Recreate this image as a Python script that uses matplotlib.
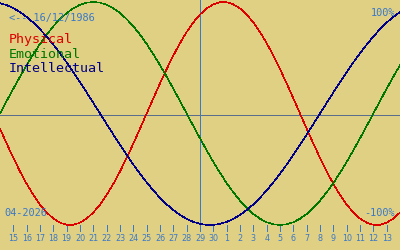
import numpy as np
import matplotlib
matplotlib.use("Agg")
import matplotlib.pyplot as plt

# ---- data (biorhythm values, half-day steps from -15 to +15 days around today) ----
day_offsets = np.arange(-15, 15.5, 0.5)

physical = [
    -0.136, -0.270, -0.398, -0.520, -0.631, -0.731, -0.817, -0.888, -0.942, -0.979,
    -0.998, -0.998, -0.979, -0.942, -0.888, -0.817, -0.731, -0.631, -0.520, -0.398,
    -0.270, -0.136, 0.000, 0.136, 0.270, 0.398, 0.520, 0.631, 0.731, 0.817,
    0.888, 0.942, 0.979, 0.998, 0.998, 0.979, 0.942, 0.888, 0.817, 0.731,
    0.631, 0.520, 0.398, 0.270, 0.136, 0.000, -0.136, -0.270, -0.398, -0.520,
    -0.631, -0.731, -0.817, -0.888, -0.942, -0.979, -0.998, -0.998, -0.979, -0.942,
    -0.888,
]
emotional = [
    0.000, 0.112, 0.223, 0.330, 0.434, 0.532, 0.624, 0.707, 0.782, 0.847,
    0.901, 0.944, 0.975, 0.994, 1.000, 0.994, 0.975, 0.944, 0.901, 0.847,
    0.782, 0.707, 0.624, 0.532, 0.434, 0.330, 0.223, 0.112, 0.000, -0.112,
    -0.223, -0.330, -0.434, -0.532, -0.624, -0.707, -0.782, -0.847, -0.901, -0.944,
    -0.975, -0.994, -1.000, -0.994, -0.975, -0.944, -0.901, -0.847, -0.782, -0.707,
    -0.624, -0.532, -0.434, -0.330, -0.223, -0.112, 0.000, 0.112, 0.223, 0.330,
    0.434,
]
intellectual = [
    0.990, 0.972, 0.945, 0.910, 0.866, 0.815, 0.756, 0.690, 0.618, 0.541,
    0.458, 0.372, 0.282, 0.189, 0.095, 0.000, -0.095, -0.189, -0.282, -0.372,
    -0.458, -0.541, -0.618, -0.690, -0.756, -0.815, -0.866, -0.910, -0.945, -0.972,
    -0.990, -0.999, -0.999, -0.990, -0.972, -0.945, -0.910, -0.866, -0.815, -0.756,
    -0.690, -0.618, -0.541, -0.458, -0.372, -0.282, -0.189, -0.095, 0.000, 0.095,
    0.189, 0.282, 0.372, 0.458, 0.541, 0.618, 0.690, 0.756, 0.815, 0.866,
    0.910,
]
tick_days = list(range(-14, 15))
tick_labels = [str(d) for d in list(range(15, 31)) + list(range(1, 14))]
series_names = ["Physical", "Emotional", "Intellectual"]
birth_label = "<-- 16/12/1986"
month_label = "04-2026"

# ---- styling ----
BG = "#e0d084"
BLUE = "#3a78c8"
COLORS = ["#dd0000", "#007700", "#000088"]
W, H = 400, 250

fig = plt.figure(figsize=(4, 2.5), dpi=100, facecolor=BG)
ax = fig.add_axes([0, 0, 1, 1], facecolor=BG)
amp, cy = 111.5, 113.5
ax.set_xlim(-15, 15)
ax.set_ylim((cy - H) / amp, cy / amp)
ax.axis("off")

def px_y(p):
    return (cy - p) / amp

LW = 0.6
# zero line
ax.axhline(px_y(115), color="#5a6e8c", lw=LW, antialiased=False, zorder=1)
# today line
ax.plot([0, 0], [px_y(224.5), px_y(-1)], color=BLUE, lw=LW, antialiased=False, zorder=1)
# ticks
for d in tick_days:
    ax.plot([d, d], [px_y(225), px_y(231)], color=BLUE, lw=LW, antialiased=False)

for vals, c in zip([physical, emotional, intellectual], COLORS):
    ax.plot(day_offsets, vals, color=c, lw=0.4, antialiased=False, zorder=3,
            solid_joinstyle="miter")

mono = ["DejaVu Sans Mono"]
def ptext(x, y, s, **kw):
    fig.text(x / W, 1 - y / H, s, **kw)

ptext(9, 21, birth_label, color=BLUE, fontsize=7.4, family=mono, va="baseline")
for i, (name, c) in enumerate(zip(series_names, COLORS)):
    ptext(9, 43 + 14.7 * i, name, color=c, fontsize=9.6, family=mono, va="baseline")
ptext(395, 16, "100%", color=BLUE, fontsize=7.4, family=mono, va="baseline", ha="right")
ptext(395, 216, "-100%", color=BLUE, fontsize=7.4, family=mono, va="baseline", ha="right")
ptext(4, 216, month_label, color=BLUE, fontsize=7.4, family=mono, va="baseline")
for d, lab in zip(tick_days, tick_labels):
    ax.text(d, px_y(241), lab, color=BLUE, fontsize=5.8, ha="center", va="baseline",
            family=["DejaVu Sans"])

fig.savefig("out.png", dpi=100, facecolor=BG)
